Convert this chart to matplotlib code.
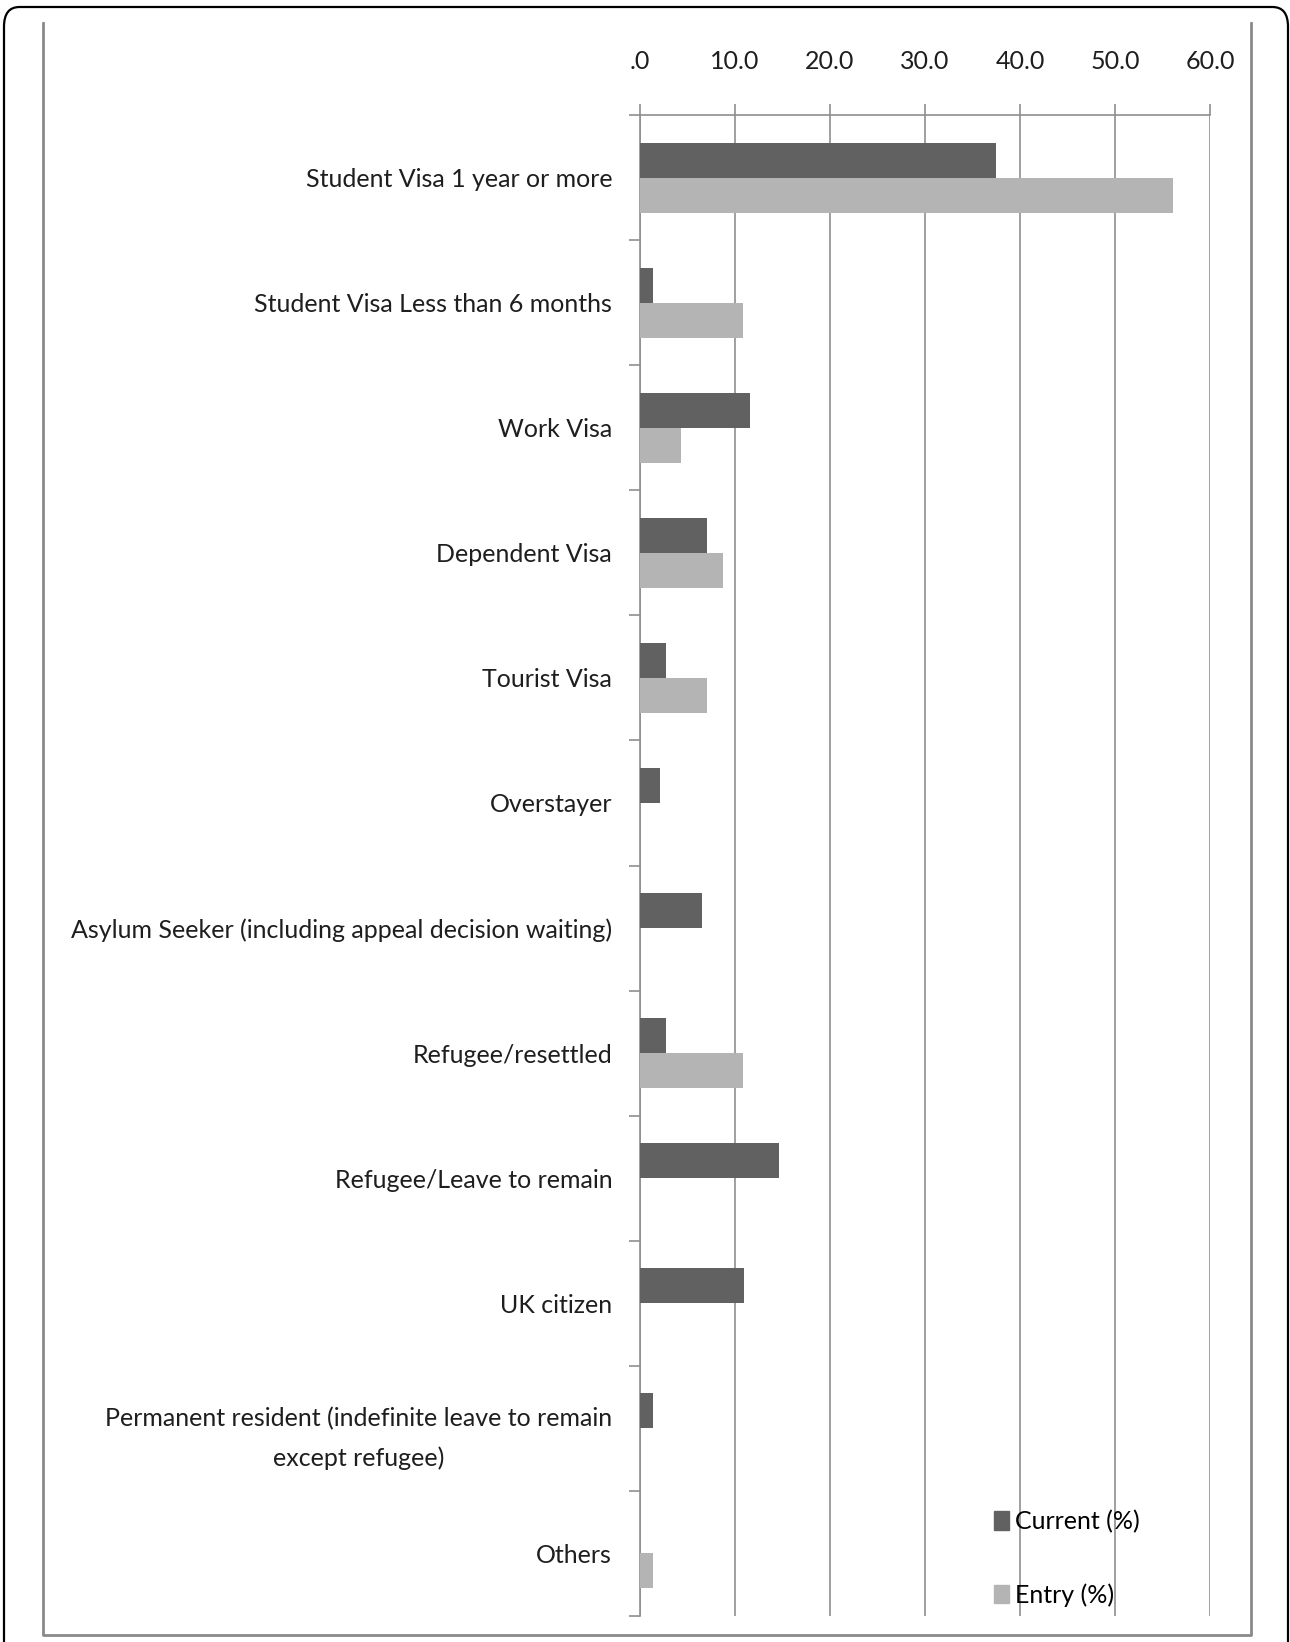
import matplotlib
matplotlib.use("Agg")
import matplotlib.pyplot as plt
from matplotlib.patches import FancyBboxPatch, Patch
from matplotlib.lines import Line2D

plt.rcParams["font.family"] = ["Lato", "DejaVu Sans"]

categories = [
    "Student Visa 1 year or more",
    "Student Visa Less than 6 months",
    "Work Visa",
    "Dependent Visa",
    "Tourist Visa",
    "Overstayer",
    "Asylum Seeker (including appeal decision waiting)",
    "Refugee/resettled",
    "Refugee/Leave to remain",
    "UK citizen",
    "Permanent resident (indefinite leave to remain\nexcept refugee)",
    "Others",
]
current_pct = [37.5, 1.4, 11.6, 7.1, 2.7, 2.1, 6.5, 2.7, 14.6, 10.9, 1.4, 0.0]
entry_pct = [56.1, 10.8, 4.3, 8.7, 7.1, 0.0, 0.0, 10.8, 0.0, 0.0, 0.0, 1.4]
x_ticks = [0, 10, 20, 30, 40, 50, 60]
x_tick_labels = [".0", "10.0", "20.0", "30.0", "40.0", "50.0", "60.0"]

W, H = 1290, 1642
fig = plt.figure(figsize=(W / 100, H / 100), dpi=100)

# plot area in pixels: x 640..1210, y 115..1616 (from top)
ax = fig.add_axes([640 / W, 1 - 1616 / H, 570 / W, 1501 / H])

dark = "#616161"
light = "#b4b4b4"
grid_c = "#8f8f8f"
text_c = "#1e1e1e"
bar_h = 0.28
ypos = list(range(len(categories)))

ax.barh([y - bar_h / 2 for y in ypos], current_pct, height=bar_h, color=dark,
        label="Current (%)", zorder=3)
ax.barh([y + bar_h / 2 for y in ypos], entry_pct, height=bar_h, color=light,
        label="Entry (%)", zorder=3)

ax.set_xlim(0, 60)
ax.set_ylim(len(categories) - 0.5, -0.5)

ax.xaxis.tick_top()
ax.set_xticks(x_ticks)
ax.set_xticklabels(x_tick_labels, fontsize=18, color=text_c)
ax.tick_params(axis="x", which="major", direction="out", length=8, width=1.2,
               color=grid_c, pad=22)
ax.grid(axis="x", color=grid_c, linewidth=1.2, zorder=0)

ax.set_yticks(ypos)
ax.set_yticklabels(categories, fontsize=18, color=text_c)
ax.set_yticks([y - 0.5 for y in ypos] + [len(categories) - 0.5], minor=True)
ax.tick_params(axis="y", which="major", length=0, pad=20)
ax.tick_params(axis="y", which="minor", direction="out", length=8, width=1.2,
               color=grid_c)
lbl = ax.get_yticklabels()[10]
lbl.set_multialignment("center")
lbl.set_linespacing(1.85)

for side in ["right", "bottom"]:
    ax.spines[side].set_visible(False)
for side in ["left", "top"]:
    ax.spines[side].set_color(grid_c)
    ax.spines[side].set_linewidth(1.2)

handles = [Patch(color=dark), Patch(color=light)]
fig.legend(handles, ["Current (%)", "Entry (%)"], loc="upper left",
           bbox_to_anchor=(994 / W, 1 - 1510 / H), frameon=False, fontsize=18,
           handlelength=0.6, handleheight=0.75, handletextpad=0.25,
           labelspacing=2.0, borderpad=0, borderaxespad=0)

# inner grey frame (left, bottom, right)
fx = lambda px: px / W
fy = lambda py: 1 - py / H
frame_c = "#8a8a8a"
fig.add_artist(Line2D([fx(43), fx(43), fx(1251), fx(1251)],
                      [fy(23), fy(1635), fy(1635), fy(23)],
                      color=frame_c, linewidth=2, transform=fig.transFigure))

# outer black rounded border
fig.add_artist(FancyBboxPatch((fx(4), fy(1700)), fx(1288) - fx(4), fy(7) - fy(1700),
                              boxstyle="round,pad=0,rounding_size=0.012",
                              transform=fig.transFigure, fill=False,
                              edgecolor="black", linewidth=1.6))

fig.savefig("out.png", dpi=100)
